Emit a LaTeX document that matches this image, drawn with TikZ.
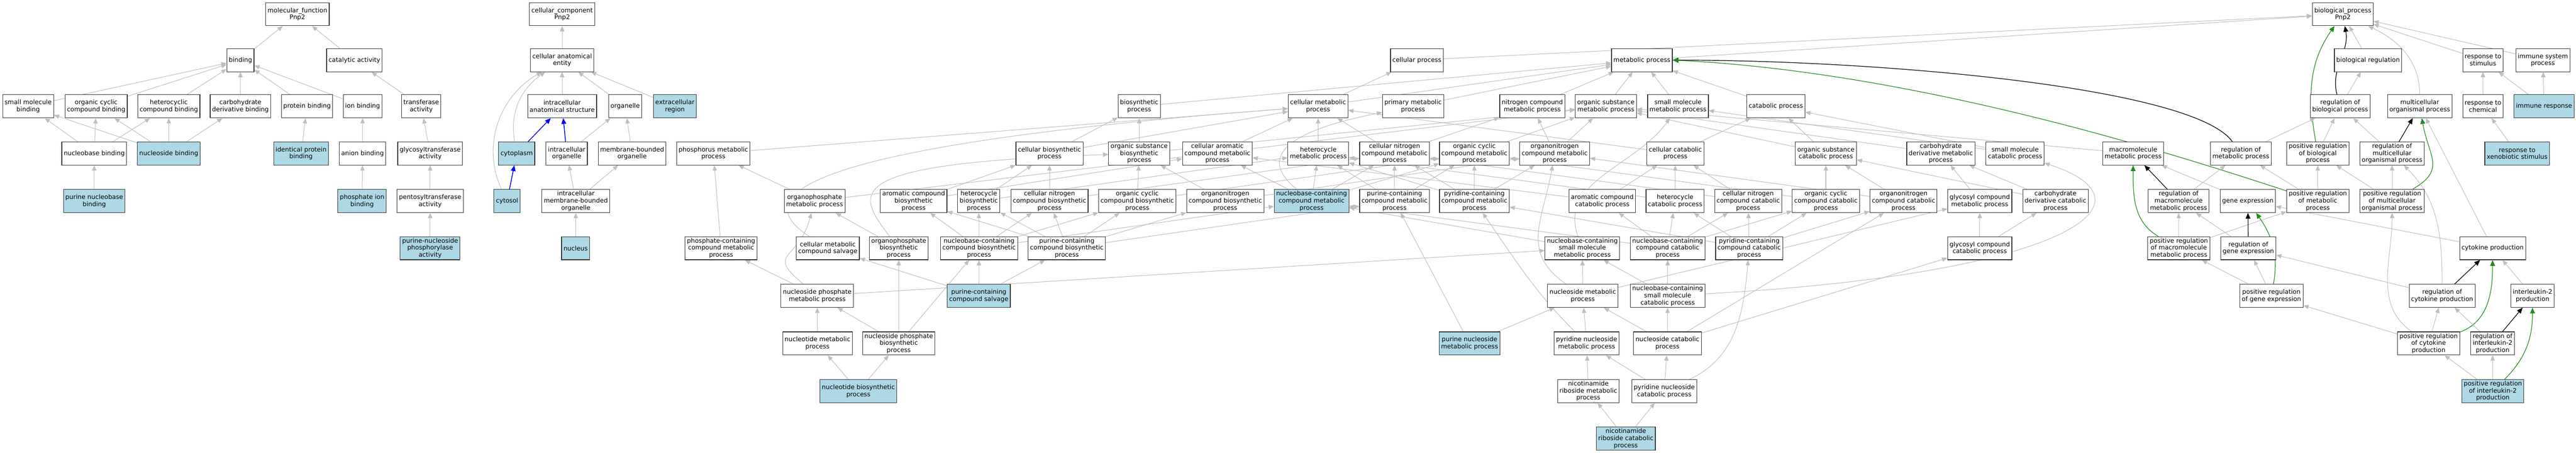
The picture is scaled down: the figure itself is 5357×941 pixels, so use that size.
\documentclass[tikz,border=0pt]{standalone}
\usepackage{fontspec}
\newfontfamily\gofont{DejaVu Sans}
\usetikzlibrary{arrows.meta,backgrounds}

\definecolor{edgegray}{RGB}{190,190,190}
\definecolor{hitblue}{RGB}{173,216,230}
\definecolor{posgreen}{RGB}{34,139,34}

\begin{document}
\begin{tikzpicture}[x=1pt, y=1pt,
        term/.style=
            {
                rectangle,
                draw = black!80,
                line width = 1.2pt,
                fill = white,
                inner xsep = 4pt,
                inner ysep = 1pt,
                align = center,
                minimum height = 48pt,
                font = \gofont\fontsize{13}{14.7}\selectfont
            },
        hit/.style=
            {
                term,
                fill = hitblue
            },
        isa/.style=
            {
                draw = edgegray,
                line width = 1.1pt,
                -{Triangle[length=11pt,width=9pt]}
            },
        partof/.style=
            {
                draw = blue,
                line width = 1.6pt,
                -{Triangle[length=12pt,width=10pt]}
            },
        regulates/.style=
            {
                draw = black,
                line width = 1.3pt,
                -{Triangle[length=12pt,width=10pt]}
            },
        posreg/.style=
            {
                draw = posgreen,
                line width = 1.3pt,
                -{Triangle[length=12pt,width=10pt]}
            }
    ]

    \useasboundingbox (0,0) rectangle (5357,-941);

    \draw (618.5,-29.5) node[term] (mf) {molecular\_function\\Pnp2};
    \draw (500,-125) node[term] (bind) {binding};
    \draw (737,-125) node[term] (cat) {catalytic activity};
    \draw (58.5,-221) node[term] (smb) {small molecule\\binding};
    \draw (200,-221) node[term] (occb) {organic cyclic\\compound binding};
    \draw (351,-221) node[term] (hcb) {heterocyclic\\compound binding};
    \draw (500,-221) node[term] (cdb) {carbohydrate\\derivative binding};
    \draw (638.5,-221) node[term] (protb) {protein binding};
    \draw (754,-221) node[term] (ionb) {ion binding};
    \draw (876,-221) node[term] (trans) {transferase\\activity};
    \draw (196,-319) node[term] (nbb) {nucleobase binding};
    \draw (351,-319) node[hit] (nsb) {nucleoside binding};
    \draw (626,-319) node[hit] (idpb) {identical protein\\binding};
    \draw (754,-319) node[term] (anb) {anion binding};
    \draw (894.5,-319) node[term] (glyt) {glycosyltransferase\\activity};
    \draw (196,-418) node[hit] (pnbb) {purine nucleobase\\binding};
    \draw (753,-418) node[hit] (phib) {phosphate ion\\binding};
    \draw (894.5,-418) node[term] (pent) {pentosyltransferase\\activity};
    \draw (894.5,-516) node[hit] (pnp) {purine-nucleoside\\phosphorylase\\activity};

    \draw (1169,-29.5) node[term] (cc) {cellular\_component\\Pnp2};
    \draw (1169,-125) node[term] (cae) {cellular anatomical\\entity};
    \draw (1169,-221) node[term] (ias) {intracellular\\anatomical structure};
    \draw (1300,-221) node[term] (org) {organelle};
    \draw (1403.5,-221) node[hit] (ecr) {extracellular\\region};
    \draw (1074.5,-319) node[hit] (cyto) {cytoplasm};
    \draw (1178.5,-319) node[term] (iorg) {intracellular\\organelle};
    \draw (1314.5,-319) node[term] (mborg) {membrane-bounded\\organelle};
    \draw (1054.5,-418) node[hit] (csol) {cytosol};
    \draw (1197.5,-418) node[term] (imborg) {intracellular\\membrane-bounded\\organelle};
    \draw (1197,-516) node[hit] (nuc) {nucleus};

    \draw (4872,-29.5) node[term] (bp) {biological\_process\\Pnp2};
    \draw (2946.5,-125) node[term] (cp) {cellular process};
    \draw (3414.5,-125) node[term] (mp) {metabolic process};
    \draw (4924.5,-125) node[term] (breg) {biological regulation};
    \draw (5163.5,-125) node[term] (rstim) {response to\\stimulus};
    \draw (5288,-125) node[term] (imsys) {immune system\\process};

    \draw (2369,-221) node[term] (bsp) {biosynthetic\\process};
    \draw (2741,-221) node[term] (cmp) {cellular metabolic\\process};
    \draw (2938.5,-221) node[term] (pmp) {primary metabolic\\process};
    \draw (3186.5,-221) node[term] (ncmp) {nitrogen compound\\metabolic process};
    \draw (3339.5,-221) node[term] (osmp) {organic substance\\metabolic process};
    \draw (3489.5,-221) node[term] (smmp) {small molecule\\metabolic process};
    \draw (3693,-221) node[term] (catp) {catabolic process};
    \draw (4866.5,-221) node[term] (rbp) {regulation of\\biological process};
    \draw (5032,-221) node[term] (mop) {multicellular\\organismal process};
    \draw (5163.5,-221) node[term] (rchem) {response to\\chemical};
    \draw (5290.5,-221) node[hit] (imresp) {immune response};

    \draw (1483.5,-319) node[term] (phmp) {phosphorus metabolic\\process};
    \draw (2182.5,-319) node[term] (cbsp) {cellular biosynthetic\\process};
    \draw (2369,-319) node[term] (osbsp) {organic substance\\biosynthetic\\process};
    \draw (2531.5,-319) node[term] (camp) {cellular aromatic\\compound metabolic\\process};
    \draw (2741.5,-319) node[term] (hmp) {heterocycle\\metabolic process};
    \draw (2900,-319) node[term] (cnmp) {cellular nitrogen\\compound metabolic\\process};
    \draw (3066,-319) node[term] (occmp) {organic cyclic\\compound metabolic\\process};
    \draw (3233,-319) node[term] (onmp) {organonitrogen\\compound metabolic\\process};
    \draw (3484,-319) node[term] (ccatp) {cellular catabolic\\process};
    \draw (3797,-319) node[term] (oscatp) {organic substance\\catabolic process};
    \draw (4036,-319) node[term] (cdmp) {carbohydrate\\derivative metabolic\\process};
    \draw (4190.5,-319) node[term] (smcatp) {small molecule\\catabolic process};
    \draw (4436,-319) node[term] (mmp) {macromolecule\\metabolic process};
    \draw (4660,-319) node[term] (rmp) {regulation of\\metabolic process};
    \draw (4820,-319) node[term] (prbp) {positive regulation\\of biological\\process};
    \draw (4974.5,-319) node[term] (rmop) {regulation of\\multicellular\\organismal process};
    \draw (5234.5,-319) node[hit] (rxeno) {response to\\xenobiotic stimulus};

    \draw (1694,-418) node[term] (ophmp) {organophosphate\\metabolic process};
    \draw (1900,-418) node[term] (abs) {aromatic compound\\biosynthetic\\process};
    \draw (2035.5,-418) node[term] (hbs) {heterocycle\\biosynthetic\\process};
    \draw (2182.5,-418) node[term] (cnbs) {cellular nitrogen\\compound biosynthetic\\process};
    \draw (2365,-418) node[term] (occbs) {organic cyclic\\compound biosynthetic\\process};
    \draw (2548,-418) node[term] (onbs) {organonitrogen\\compound biosynthetic\\process};
    \draw (2727.5,-418) node[hit] (nbmp) {nucleobase-containing\\compound metabolic\\process};
    \draw (2900,-418) node[term] (pcmp) {purine-containing\\compound metabolic\\process};
    \draw (3066,-418) node[term] (pycmp) {pyridine-containing\\compound metabolic\\process};
    \draw (3332,-418) node[term] (acatp) {aromatic compound\\catabolic process};
    \draw (3483.5,-418) node[term] (hcatp) {heterocycle\\catabolic process};
    \draw (3635.5,-418) node[term] (cncatp) {cellular nitrogen\\compound catabolic\\process};
    \draw (3797,-418) node[term] (occatp) {organic cyclic\\compound catabolic\\process};
    \draw (3958.5,-418) node[term] (oncatp) {organonitrogen\\compound catabolic\\process};
    \draw (4117,-418) node[term] (gcmp) {glycosyl compound\\metabolic process};
    \draw (4274.5,-418) node[term] (cdcatp) {carbohydrate\\derivative catabolic\\process};
    \draw (4530.5,-418) node[term] (rmmp) {regulation of\\macromolecule\\metabolic process};
    \draw (4674.5,-418) node[term] (gexp) {gene expression};
    \draw (4820,-418) node[term] (prmp) {positive regulation\\of metabolic\\process};
    \draw (4974.5,-418) node[term] (prmop) {positive regulation\\of multicellular\\organismal process};

    \draw (1499.5,-516) node[term] (pccmp) {phosphate-containing\\compound metabolic\\process};
    \draw (1721.5,-516) node[term] (salv) {cellular metabolic\\compound salvage};
    \draw (1869,-516) node[term] (ophbs) {organophosphate\\biosynthetic\\process};
    \draw (2036,-516) node[term] (nbbs) {nucleobase-containing\\compound biosynthetic\\process};
    \draw (2218.5,-516) node[term] (pcbs) {purine-containing\\compound biosynthetic\\process};
    \draw (3290.5,-516) node[term] (nbsmmp) {nucleobase-containing\\small molecule\\metabolic process};
    \draw (3468,-516) node[term] (nbcatp) {nucleobase-containing\\compound catabolic\\process};
    \draw (3637.5,-516) node[term] (pyccatp) {pyridine-containing\\compound catabolic\\process};
    \draw (4117,-516) node[term] (gccatp) {glycosyl compound\\catabolic process};
    \draw (4531,-516) node[term] (prmmp) {positive regulation\\of macromolecule\\metabolic process};
    \draw (4675.5,-516) node[term] (rgexp) {regulation of\\gene expression};
    \draw (5183.5,-516) node[term] (cytp) {cytokine production};

    \draw (1699.5,-615) node[term] (npmp) {nucleoside phosphate\\metabolic process};
    \draw (2035.5,-615) node[hit] (pcsalv) {purine-containing\\compound salvage};
    \draw (3291.5,-615) node[term] (nsmp) {nucleoside metabolic\\process};
    \draw (3468,-615) node[term] (nbsmcatp) {nucleobase-containing\\small molecule\\catabolic process};
    \draw (4723.5,-615) node[term] (prgexp) {positive regulation\\of gene expression};
    \draw (5078.5,-615) node[term] (rcytp) {regulation of\\cytokine production};
    \draw (5266.5,-615) node[term] (il2p) {interleukin-2\\production};

    \draw (1700,-714) node[term] (ntmp) {nucleotide metabolic\\process};
    \draw (1869,-714) node[term] (npbs) {nucleoside phosphate\\biosynthetic\\process};
    \draw (3056,-714) node[hit] (pnsmp) {purine nucleoside\\metabolic process};
    \draw (3299.5,-714) node[term] (pynsmp) {pyridine nucleoside\\metabolic process};
    \draw (3467.5,-714) node[term] (nscatp) {nucleoside catabolic\\process};
    \draw (5050.5,-714) node[term] (prcytp) {positive regulation\\of cytokine\\production};
    \draw (5183.5,-714) node[term] (ril2p) {regulation of\\interleukin-2\\production};

    \draw (1785,-813) node[hit] (ntbs) {nucleotide biosynthetic\\process};
    \draw (3303,-813) node[term] (nrmp) {nicotinamide\\riboside metabolic\\process};
    \draw (3461,-813) node[term] (pynscatp) {pyridine nucleoside\\catabolic process};
    \draw (5184,-813) node[hit] (pril2p) {positive regulation\\of interleukin-2\\production};

    \draw (3381,-912) node[hit] (nrcatp) {nicotinamide\\riboside catabolic\\process};

    \begin{pgfonlayer}{background}
    \draw[isa] (bind) -- (mf);
    \draw[isa] (cat) -- (mf);
    \draw[isa] (smb) -- (bind);
    \draw[isa] (occb) -- (bind);
    \draw[isa] (hcb) -- (bind);
    \draw[isa] (cdb) -- (bind);
    \draw[isa] (protb) -- (bind);
    \draw[isa] (ionb) -- (bind);
    \draw[isa] (trans) -- (cat);
    \draw[isa] (nbb) -- (smb);
    \draw[isa] (nbb) -- (occb);
    \draw[isa] (nbb) -- (hcb);
    \draw[isa] (nsb) -- (smb);
    \draw[isa] (nsb) -- (occb);
    \draw[isa] (nsb) -- (hcb);
    \draw[isa] (nsb) -- (cdb);
    \draw[isa] (pnbb) -- (nbb);
    \draw[isa] (idpb) -- (protb);
    \draw[isa] (anb) -- (ionb);
    \draw[isa] (phib) -- (anb);
    \draw[isa] (glyt) -- (trans);
    \draw[isa] (pent) -- (glyt);
    \draw[isa] (pnp) -- (pent);

    \draw[isa] (cae) -- (cc);
    \draw[isa] (ias) -- (cae);
    \draw[isa] (org) -- (cae);
    \draw[isa] (ecr) -- (cae);
    \draw[isa] (cyto) to[out=100,in=-145] (cae);
    \draw[isa] (csol) to[out=115,in=-150] (cae);
    \draw[partof] (cyto) -- (ias);
    \draw[partof] (csol) -- (cyto);
    \draw[partof] (iorg) -- (ias);
    \draw[isa] (iorg) -- (org);
    \draw[isa] (mborg) -- (org);
    \draw[isa] (imborg) -- (iorg);
    \draw[isa] (imborg) -- (mborg);
    \draw[isa] (nuc) -- (imborg);

    \draw[isa] (cp) -- (bp);
    \draw[isa] (mp) -- (bp);
    \draw[isa] (breg) -- (bp);
    \draw[isa] (mop) to[out=90,in=-25] (bp);
    \draw[isa] (rstim) -- (bp);
    \draw[isa] (imsys) -- (bp);
    \draw[isa] (rbp) -- (breg);
    \draw[regulates] (rbp) to[out=105,in=-80] (bp);
    \draw[isa] (prbp) -- (rbp);
    \draw[posreg] (prbp) to[out=100,in=-125] (bp);
    \draw[isa] (rchem) -- (rstim);
    \draw[isa] (imresp) -- (rstim);
    \draw[isa] (imresp) -- (imsys);
    \draw[isa] (rxeno) -- (rchem);
    \draw[isa] (rmop) -- (rbp);
    \draw[regulates] (rmop) -- (mop);
    \draw[isa] (prmop) -- (rmop);
    \draw[isa] (prmop) -- (prbp);
    \draw[posreg] (prmop) to[out=30,in=-80,looseness=1.4] (mop);
    \draw[isa] (cytp) -- (mop);
    \draw[isa] (cytp) -- (gexp);
    \draw[regulates] (rcytp) -- (cytp);
    \draw[isa] (rcytp) to[out=90,in=-45] (rmop);
    \draw[isa] (rcytp) -- (rgexp);
    \draw[isa] (il2p) -- (cytp);
    \draw[isa] (prcytp) -- (rcytp);
    \draw[posreg] (prcytp) to[out=20,in=-90] (cytp);
    \draw[isa] (prcytp) to[out=145,in=-90] (prmop);
    \draw[isa] (prcytp) -- (prgexp);
    \draw[isa] (ril2p) -- (rcytp);
    \draw[regulates] (ril2p) -- (il2p);
    \draw[isa] (pril2p) -- (prcytp);
    \draw[isa] (pril2p) -- (ril2p);
    \draw[posreg] (pril2p) to[out=45,in=-90] (il2p);
    \draw[isa] (rmp) -- (rbp);
    \draw[regulates] (rmp) .. controls (4560,-180) and (3900,-125) .. (mp.east);
    \draw[isa] (prmp) -- (rmp);
    \draw[isa] (prmp) -- (prbp);
    \draw[posreg] (prmp) .. controls (4550,-330) and (4000,-150) .. (mp.east);
    \draw[regulates] (rmmp) -- (mmp);
    \draw[isa] (rmmp) -- (rmp);
    \draw[isa] (gexp) -- (mmp);
    \draw[posreg] (prmmp) to[out=150,in=-90] (mmp);
    \draw[isa] (prmmp) -- (rmmp);
    \draw[isa] (prmmp) -- (prmp);
    \draw[regulates] (rgexp) -- (gexp);
    \draw[isa] (rgexp) -- (rmmp);
    \draw[posreg] (prgexp) to[out=80,in=-55] (gexp);
    \draw[isa] (prgexp) -- (rgexp);
    \draw[isa] (prgexp) -- (prmmp);

    \draw[isa] (bsp) -- (mp);
    \draw[isa] (cmp) -- (cp);
    \draw[isa] (cmp) -- (mp);
    \draw[isa] (pmp) -- (mp);
    \draw[isa] (ncmp) -- (mp);
    \draw[isa] (osmp) -- (mp);
    \draw[isa] (smmp) -- (mp);
    \draw[isa] (catp) -- (mp);
    \draw[isa] (phmp) -- (cmp);
    \draw[isa] (cbsp) -- (bsp);
    \draw[isa] (cbsp) -- (cmp);
    \draw[isa] (osbsp) -- (bsp);
    \draw[isa] (osbsp) -- (osmp);
    \draw[isa] (camp) -- (cmp);
    \draw[isa] (hmp) -- (cmp);
    \draw[isa] (cnmp) -- (cmp);
    \draw[isa] (cnmp) -- (ncmp);
    \draw[isa] (occmp) -- (osmp);
    \draw[isa] (onmp) -- (ncmp);
    \draw[isa] (onmp) -- (osmp);
    \draw[isa] (ccatp) -- (catp);
    \draw[isa] (ccatp) -- (cmp);
    \draw[isa] (oscatp) -- (catp);
    \draw[isa] (oscatp) -- (osmp);
    \draw[isa] (cdmp) -- (osmp);
    \draw[isa] (smcatp) -- (catp);
    \draw[isa] (smcatp) -- (smmp);
    \draw[isa] (mmp) -- (osmp);

    \draw[isa] (ophmp) -- (phmp);
    \draw[isa] (ophmp) -- (osmp);
    \draw[isa] (abs) -- (cbsp);
    \draw[isa] (abs) -- (camp);
    \draw[isa] (hbs) -- (cbsp);
    \draw[isa] (hbs) -- (hmp);
    \draw[isa] (cnbs) -- (cbsp);
    \draw[isa] (cnbs) -- (cnmp);
    \draw[isa] (occbs) -- (osbsp);
    \draw[isa] (occbs) -- (occmp);
    \draw[isa] (onbs) -- (osbsp);
    \draw[isa] (onbs) -- (onmp);
    \draw[isa] (nbmp) -- (hmp);
    \draw[isa] (nbmp) -- (cnmp);
    \draw[isa] (nbmp) -- (occmp);
    \draw[isa] (nbmp) -- (camp);
    \draw[isa] (nbmp) .. controls (2630,-340) and (2640,-280) .. (pmp);
    \draw[isa] (pcmp) -- (hmp);
    \draw[isa] (pcmp) -- (cnmp);
    \draw[isa] (pcmp) -- (occmp);
    \draw[isa] (pycmp) -- (occmp);
    \draw[isa] (pycmp) -- (cnmp);
    \draw[isa] (pycmp) -- (onmp);
    \draw[isa] (pycmp) -- (hmp);
    \draw[isa] (acatp) -- (ccatp);
    \draw[isa] (acatp) -- (camp);
    \draw[isa] (hcatp) -- (ccatp);
    \draw[isa] (hcatp) -- (hmp);
    \draw[isa] (cncatp) -- (ccatp);
    \draw[isa] (cncatp) -- (cnmp);
    \draw[isa] (occatp) -- (oscatp);
    \draw[isa] (occatp) -- (occmp);
    \draw[isa] (oncatp) -- (oscatp);
    \draw[isa] (oncatp) -- (onmp);
    \draw[isa] (gcmp) -- (cdmp);
    \draw[isa] (cdcatp) -- (cdmp);
    \draw[isa] (cdcatp) -- (oscatp);

    \draw[isa] (pccmp) -- (phmp);
    \draw[isa] (salv) .. controls (1540,-400) and (1700,-300) .. (cmp);
    \draw[isa] (ophbs) -- (ophmp);
    \draw[isa] (ophbs) .. controls (1780,-400) and (1740,-340) .. (osbsp);
    \draw[isa] (nbbs) -- (abs);
    \draw[isa] (nbbs) -- (hbs);
    \draw[isa] (nbbs) -- (cnbs);
    \draw[isa] (nbbs) -- (occbs);
    \draw[isa] (nbbs) -- (nbmp);
    \draw[isa] (pcbs) -- (pcmp);
    \draw[isa] (pcbs) -- (abs);
    \draw[isa] (pcbs) -- (hbs);
    \draw[isa] (pcbs) -- (cnbs);
    \draw[isa] (pcbs) -- (occbs);
    \draw[isa] (pcbs) -- (onbs);
    \draw[isa] (nbsmmp) to[out=110,in=-125] (smmp);
    \draw[isa] (nbsmmp) -- (nbmp);
    \draw[isa] (nbcatp) -- (acatp);
    \draw[isa] (nbcatp) -- (hcatp);
    \draw[isa] (nbcatp) -- (cncatp);
    \draw[isa] (nbcatp) -- (occatp);
    \draw[isa] (nbcatp) -- (nbmp);
    \draw[isa] (pyccatp) -- (pycmp);
    \draw[isa] (pyccatp) -- (hcatp);
    \draw[isa] (pyccatp) -- (cncatp);
    \draw[isa] (pyccatp) -- (occatp);
    \draw[isa] (pyccatp) -- (oncatp);
    \draw[isa] (gccatp) -- (gcmp);
    \draw[isa] (gccatp) -- (cdcatp);

    \draw[isa] (npmp) -- (pccmp);
    \draw[isa] (npmp) to[out=140,in=-105,looseness=1.8] (ophmp);
    \draw[isa] (npmp) -- (nbsmmp);
    \draw[isa] (pcsalv) -- (salv);
    \draw[isa] (pcsalv) -- (nbbs);
    \draw[isa] (pcsalv) -- (pcbs);
    \draw[isa] (nsmp) -- (nbsmmp);
    \draw[isa] (nsmp) -- (gcmp);
    \draw[isa] (nsmp) to[out=145,in=-100,looseness=1.2] (onmp);
    \draw[isa] (nbsmcatp) -- (nbcatp);
    \draw[isa] (nbsmcatp) -- (nbsmmp);
    \draw[isa] (nbsmcatp) .. controls (4300,-570) and (4500,-420) .. (smcatp);
    \draw[isa] (ntmp) -- (npmp);
    \draw[isa] (npbs) -- (npmp);
    \draw[isa] (npbs) -- (ophbs);
    \draw[isa] (npbs) -- (nbbs);
    \draw[isa] (pnsmp) -- (pcmp);
    \draw[isa] (pnsmp) -- (nsmp);
    \draw[isa] (pynsmp) -- (nsmp);
    \draw[isa] (pynsmp) to[out=135,in=-55] (pycmp);
    \draw[isa] (nscatp) -- (nsmp);
    \draw[isa] (nscatp) -- (nbsmcatp);
    \draw[isa] (nscatp) -- (gccatp);
    \draw[isa] (nscatp) -- (oncatp);
    \draw[isa] (ntbs) -- (ntmp);
    \draw[isa] (ntbs) -- (npbs);
    \draw[isa] (nrmp) -- (pynsmp);
    \draw[isa] (pynscatp) -- (pynsmp);
    \draw[isa] (pynscatp) -- (nscatp);
    \draw[isa] (pynscatp) to[out=25,in=-95] (pyccatp);
    \draw[isa] (nrcatp) -- (nrmp);
    \draw[isa] (nrcatp) -- (pynscatp);
    \end{pgfonlayer}

\end{tikzpicture}
\end{document}
